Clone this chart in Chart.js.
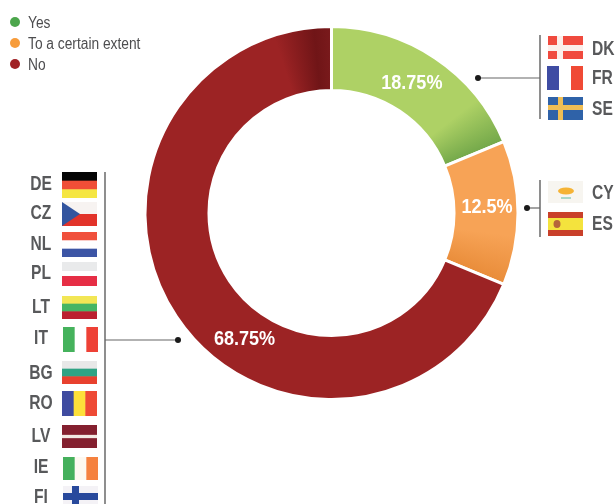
<!DOCTYPE html>
<html><head><meta charset="utf-8">
<style>html,body{margin:0;padding:0;background:#fff}#w{width:615px;height:504px;overflow:hidden}</style>
<script src="https://cdn.jsdelivr.net/npm/chart.js@4"></script></head>
<body><div id="w"><canvas id="c" width="615" height="504"></canvas></div>
<script>
const categories = ["Yes", "To a certain extent", "No"];
const shares = [18.75, 12.5, 68.75];
const shareLabels = ["18.75%", "12.5%", "68.75%"];
const legendColors = ["#4ca64c", "#f79c3b", "#a02125"];
const yesCountries = ["DK", "FR", "SE"];
const partlyCountries = ["CY", "ES"];
const noCountries = ["DE","CZ","NL","PL","LT","IT","BG","RO","LV","IE","FI"];

const FONT = '"Liberation Sans",Arial,sans-serif';
const R = 186.5;
const labelOffset = [[-5.5,-1.5],[1,-6],[41.5,40]];
const legendY = [23, 44, 65];

const flags = {
 DK:{x:548,y:36,w:35,h:23},FR:{x:547,y:66,w:36,h:24},SE:{x:548,y:97,w:35,h:23},
 CY:{x:548,y:181,w:35,h:22},ES:{x:548,y:212,w:35,h:24},
 DE:{x:62,y:172,w:35,h:26},CZ:{x:62,y:202,w:35,h:24},NL:{x:62,y:232,w:35,h:25},PL:{x:62,y:262,w:35,h:24},
 LT:{x:62,y:296,w:35,h:23},IT:{x:63,y:327,w:35,h:25},BG:{x:62,y:361,w:35,h:23},RO:{x:62,y:391,w:35,h:25},
 LV:{x:62,y:425,w:35,h:23},IE:{x:63,y:457,w:35,h:23},FI:{x:63,y:486,w:35,h:24}
};
const labelPos = {DK:[592,49],FR:[592,78],SE:[592,109],CY:[592,193],ES:[592,224],
 DE:[41,184],CZ:[41,213],NL:[41,244],PL:[41,273],LT:[41,307],IT:[41,338],BG:[41,373],RO:[41,403],LV:[41,436],IE:[41,467],FI:[41,497]};

function narrow(g,t,x,y,f){g.fillText(t,x,y,g.measureText(t).width*f);}
function hBands(g,f,cols,fr){let y=f.y;const t=fr?fr.reduce((a,b)=>a+b):cols.length;cols.forEach((c,i)=>{const h=f.h*(fr?fr[i]:1)/t;g.fillStyle=c;g.fillRect(f.x,y,f.w,i<cols.length-1?h+.5:h);y+=h;});}
function vBands(g,f,cols){const w=f.w/cols.length;cols.forEach((c,i)=>{g.fillStyle=c;g.fillRect(f.x+i*w,f.y,i<cols.length-1?w+.5:w,f.h);});}
function drawFlag(g,k){const f=flags[k];g.save();g.filter='blur(0.5px)';
 switch(k){
  case'DK':g.fillStyle='#f04a3e';g.fillRect(f.x,f.y,f.w,f.h);g.fillStyle='#fbeeea';g.fillRect(f.x+9,f.y,6,f.h);g.fillRect(f.x,f.y+9,f.w,6);break;
  case'FR':vBands(g,f,['#3f4ca3','#ffffff','#f04a35']);break;
  case'SE':g.fillStyle='#2f62a8';g.fillRect(f.x,f.y,f.w,f.h);g.fillStyle='#efbe55';g.fillRect(f.x+10,f.y,5,f.h);g.fillRect(f.x,f.y+8,f.w,5);break;
  case'CY':g.fillStyle='#f7f5f0';g.fillRect(f.x,f.y,f.w,f.h);g.fillStyle='#f5b335';g.beginPath();g.ellipse(f.x+18,f.y+10,8,3.5,0,0,7);g.fill();g.fillStyle='#a9d8c8';g.fillRect(f.x+13,f.y+16,10,2);break;
  case'ES':hBands(g,f,['#c9402a','#f4e33d','#c9402a'],[1,2,1]);g.fillStyle='#b5653a';g.beginPath();g.ellipse(f.x+9,f.y+12,3.5,4,0,0,7);g.fill();break;
  case'DE':hBands(g,f,['#050505','#f04e37','#f5e642']);break;
  case'CZ':hBands(g,f,['#f7f3f1','#e2332a']);g.fillStyle='#33559f';g.beginPath();g.moveTo(f.x,f.y);g.lineTo(f.x+18,f.y+f.h/2);g.lineTo(f.x,f.y+f.h);g.fill();break;
  case'NL':hBands(g,f,['#f0503c','#ffffff','#3c55a5']);break;
  case'PL':hBands(g,f,['#e9eaeb','#fff','#e62e45'],[9,5,10]);break;
  case'LT':hBands(g,f,['#f2e655','#45b564','#bb2030']);break;
  case'IT':vBands(g,f,['#45b25c','#ffffff','#ee4136']);break;
  case'BG':hBands(g,f,['#e8e8e8','#2fa384','#e8412e']);break;
  case'RO':vBands(g,f,['#3f4ba0','#fde03a','#ee4a35']);break;
  case'LV':hBands(g,f,['#84202f','#f3e9e3','#84202f'],[3,1,3]);break;
  case'IE':vBands(g,f,['#45b05c','#fdf8f0','#f5813f']);break;
  case'FI':g.fillStyle='#f4f2f6';g.fillRect(f.x,f.y,f.w,f.h);g.fillStyle='#28499c';g.fillRect(f.x+9,f.y,7,f.h);g.fillRect(f.x,f.y+7,f.w,7);break;
 }
 g.restore();
 const p=labelPos[k];g.font='bold 20px '+FONT;g.fillStyle='#58595b';g.textBaseline='middle';
 g.textAlign=p[0]>300?'left':'center';narrow(g,k,p[0],p[1],.78);
}
function seg(g,a,b,c,d,col,w){g.strokeStyle=col;g.lineWidth=w;g.beginPath();g.moveTo(a,b);g.lineTo(c,d);g.stroke();}
function dot(g,x,y){g.fillStyle='#1a1a1a';g.beginPath();g.arc(x,y,3,0,7);g.fill();}

const decor={id:'decor',afterDraw(chart){const g=chart.ctx;g.save();
 chart.getDatasetMeta(0).data.forEach((el,i)=>{const p=el.tooltipPosition();
  g.font='bold 21px '+FONT;g.fillStyle='#fff';g.textAlign='center';g.textBaseline='middle';
  narrow(g,shareLabels[i],p.x+labelOffset[i][0],p.y+labelOffset[i][1],.86);});
 categories.forEach((t,i)=>{g.fillStyle=legendColors[i];g.beginPath();g.arc(15,legendY[i]-1,5,0,7);g.fill();
  g.font='16px '+FONT;g.fillStyle='#4d4d4f';g.textAlign='left';g.textBaseline='middle';narrow(g,t,28,legendY[i]+1,.86);});
 seg(g,540,35,540,119,'#444',1.2);seg(g,478,78,540,78,'#666',1.2);dot(g,478,78);
 seg(g,540,180,540,237,'#444',1.2);seg(g,527,208,540,208,'#666',1.2);dot(g,527,208);
 seg(g,105,172,105,504,'#444',1.2);seg(g,105,340,178,340,'#666',1.2);dot(g,178,340);
 yesCountries.concat(partlyCountries,noCountries).forEach(k=>drawFlag(g,k));
 g.restore();}};

function sliceFill(ctx){const chart=ctx.chart,g=chart.ctx,i=ctx.dataIndex,a=chart.chartArea;
 if(!a)return legendColors[i];
 const c=g.createConicGradient(-Math.PI/2,(a.left+a.right)/2,(a.top+a.bottom)/2);
 if(i===0){c.addColorStop(0,'#aed165');c.addColorStop(.145,'#aed165');c.addColorStop(.19,'#6fa548');}
 else if(i===1){c.addColorStop(.19,'#f7a356');c.addColorStop(.27,'#f7a356');c.addColorStop(.315,'#e88b38');}
 else{c.addColorStop(.31,'#9c2324');c.addColorStop(.95,'#9c2324');c.addColorStop(.985,'#701517');c.addColorStop(1,'#7a1a1c');}
 return c;}

new Chart(document.getElementById('c'),{type:'doughnut',
 data:{labels:categories,datasets:[{data:shares,backgroundColor:sliceFill,borderColor:'#fff',borderWidth:3,radius:R,cutout:'65.7%'}]},
 options:{responsive:false,animation:false,
  layout:{padding:{left:48,right:0,top:8,bottom:86}},
  plugins:{tooltip:{enabled:false},legend:{display:false}}},
 plugins:[decor]});
</script></body></html>
